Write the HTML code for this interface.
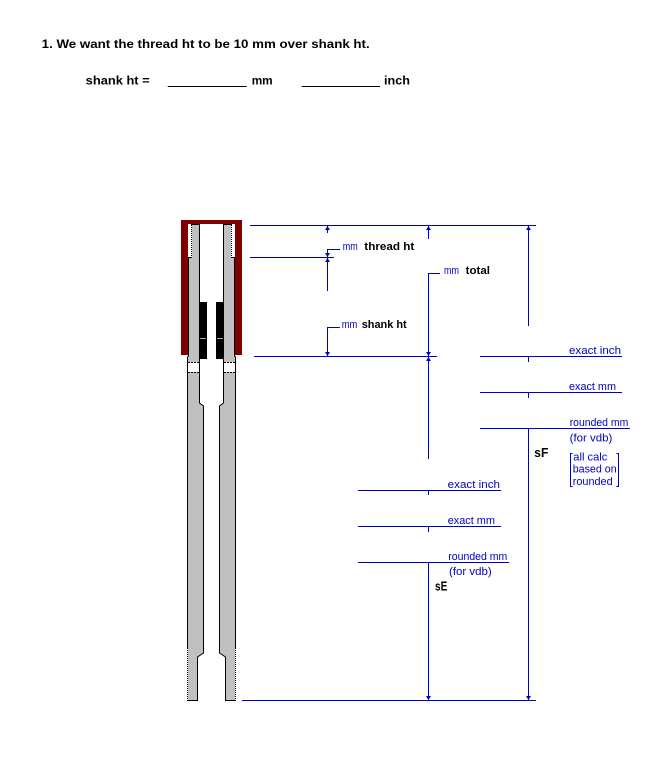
<!DOCTYPE html>
<html><head><meta charset="utf-8"><style>
html,body{margin:0;padding:0;background:#fff;}
svg{display:block;}
text{font-family:"Liberation Sans",Arial,sans-serif;}
.b{fill:#0000c0;font-size:11px;}
.k{fill:#000;font-size:11px;font-weight:bold;}
.h{fill:#000;font-size:12px;font-weight:bold;}
</style></head><body>
<svg width="650" height="780" viewBox="0 0 650 780" xmlns="http://www.w3.org/2000/svg">
<rect width="650" height="780" fill="#fff"/>
<!-- header -->
<text class="h" x="41.7" y="48" textLength="328" lengthAdjust="spacingAndGlyphs">1. We want the thread ht to be 10 mm over shank ht.</text>
<text class="h" x="85.7" y="84.3" textLength="64" lengthAdjust="spacingAndGlyphs">shank ht =</text>
<line x1="167.7" y1="86.5" x2="246.7" y2="86.5" stroke="#000" stroke-width="1"/>
<text class="h" x="251.7" y="84.3" textLength="21" lengthAdjust="spacingAndGlyphs">mm</text>
<line x1="301.7" y1="86.5" x2="380" y2="86.5" stroke="#000" stroke-width="1"/>
<text class="h" x="384" y="84.3" textLength="26" lengthAdjust="spacingAndGlyphs">inch</text>

<!-- red cap -->
<rect x="181" y="220" width="61" height="135" fill="#800000"/>
<rect x="188" y="224" width="47" height="131" fill="#fff"/>

<!-- members -->
<g stroke="#000" stroke-width="1" fill="#c0c0c0">
<polygon points="191.5,224.5 199.5,224.5 199.5,403 203.5,406 203.5,653 197.5,657 197.5,700.5 187.5,700.5 187.5,357 188.5,356 188.5,257.5 191.5,257.5"/>
<polygon points="231.5,224.5 223.5,224.5 223.5,403 219.5,406 219.5,653 225.5,657 225.5,700.5 235.5,700.5 235.5,357 234.5,356 234.5,257.5 231.5,257.5"/>
</g>
<!-- threads (dotted edges) -->
<g stroke-width="1">
<line x1="191.5" y1="225" x2="191.5" y2="257" stroke="#fff"/>
<line x1="191.5" y1="225" x2="191.5" y2="257" stroke="#000" stroke-dasharray="1,1"/>
<line x1="231.5" y1="225" x2="231.5" y2="257" stroke="#fff"/>
<line x1="231.5" y1="225" x2="231.5" y2="257" stroke="#000" stroke-dasharray="1,1"/>
<line x1="187.5" y1="648" x2="187.5" y2="700" stroke="#fff"/>
<line x1="187.5" y1="648" x2="187.5" y2="700" stroke="#000" stroke-dasharray="1,1"/>
<line x1="235.5" y1="648" x2="235.5" y2="700" stroke="#fff"/>
<line x1="235.5" y1="648" x2="235.5" y2="700" stroke="#000" stroke-dasharray="1,1"/>
</g>
<!-- white band -->
<rect x="188" y="362" width="11" height="10" fill="#fff"/>
<rect x="224" y="362" width="11" height="10" fill="#fff"/>
<g stroke="#000" stroke-width="1" stroke-dasharray="2,1">
<line x1="188" y1="362.5" x2="199" y2="362.5"/>
<line x1="188" y1="372.5" x2="199" y2="372.5"/>
<line x1="224" y1="362.5" x2="235" y2="362.5"/>
<line x1="224" y1="372.5" x2="235" y2="372.5"/>
</g>
<!-- black blocks -->
<rect x="199" y="302" width="8" height="57" fill="#000"/>
<rect x="216" y="302" width="8" height="57" fill="#000"/>
<line x1="200" y1="338.5" x2="206" y2="338.5" stroke="#a8a8a8" stroke-width="1"/>
<line x1="217" y1="338.5" x2="223" y2="338.5" stroke="#a8a8a8" stroke-width="1"/>

<!-- dimension lines -->
<g stroke="#0000c0" stroke-width="1" fill="none">
<line x1="250" y1="225.5" x2="536" y2="225.5"/>
<line x1="250" y1="257.5" x2="334" y2="257.5"/>
<line x1="254" y1="356.5" x2="437" y2="356.5"/>
<line x1="480" y1="356.5" x2="622" y2="356.5"/>
<line x1="480" y1="392.5" x2="622" y2="392.5"/>
<line x1="480" y1="428.5" x2="630" y2="428.5"/>
<line x1="358" y1="490.5" x2="501" y2="490.5"/>
<line x1="358" y1="526.5" x2="501" y2="526.5"/>
<line x1="358" y1="562.5" x2="509" y2="562.5"/>
<line x1="242" y1="700.5" x2="536" y2="700.5"/>
<!-- stubs -->
<line x1="327" y1="249.5" x2="340" y2="249.5"/>
<line x1="327" y1="327.5" x2="340" y2="327.5"/>
<line x1="428" y1="273.5" x2="440" y2="273.5"/>
<!-- x=327 -->
<line x1="327.5" y1="226" x2="327.5" y2="233"/>
<line x1="327.5" y1="249" x2="327.5" y2="257"/>
<line x1="327.5" y1="258" x2="327.5" y2="291"/>
<line x1="327.5" y1="327" x2="327.5" y2="356"/>
<!-- x=428 -->
<line x1="428.5" y1="226" x2="428.5" y2="239"/>
<line x1="428.5" y1="273" x2="428.5" y2="356"/>
<line x1="428.5" y1="357" x2="428.5" y2="459"/>
<line x1="428.5" y1="490" x2="428.5" y2="495"/>
<line x1="428.5" y1="526" x2="428.5" y2="532"/>
<line x1="428.5" y1="562" x2="428.5" y2="700"/>
<!-- x=528 -->
<line x1="528.5" y1="226" x2="528.5" y2="326"/>
<line x1="528.5" y1="356" x2="528.5" y2="362"/>
<line x1="528.5" y1="392" x2="528.5" y2="398"/>
<line x1="528.5" y1="428" x2="528.5" y2="700"/>
<!-- brackets -->
<polyline points="572.5,453.5 570.5,453.5 570.5,486.5 572.5,486.5"/>
<polyline points="616.5,453.5 618.5,453.5 618.5,486.5 616.5,486.5"/>
</g>
<!-- arrowheads -->
<g fill="#0000c0">
<polygon points="327.5,226 325,230 330,230"/>
<polygon points="327.5,257 325,253 330,253"/>
<polygon points="327.5,258 325,262 330,262"/>
<polygon points="327.5,356 325,352 330,352"/>
<polygon points="428.5,226 426,230 431,230"/>
<polygon points="428.5,356 426,352 431,352"/>
<polygon points="428.5,357 426,361 431,361"/>
<polygon points="428.5,700 426,696 431,696"/>
<polygon points="528.5,226 526,230 531,230"/>
<polygon points="528.5,700 526,696 531,696"/>
</g>

<!-- labels -->
<text class="b" x="342.7" y="250" textLength="15" lengthAdjust="spacingAndGlyphs">mm</text>
<text class="k" x="364.3" y="250" textLength="50" lengthAdjust="spacingAndGlyphs">thread ht</text>
<text class="b" x="341.7" y="328" textLength="15.5" lengthAdjust="spacingAndGlyphs">mm</text>
<text class="k" x="361.7" y="328" textLength="45" lengthAdjust="spacingAndGlyphs">shank ht</text>
<text class="b" x="444" y="274" textLength="15" lengthAdjust="spacingAndGlyphs">mm</text>
<text class="k" x="465.7" y="274" textLength="24.3" lengthAdjust="spacingAndGlyphs">total</text>

<text class="b" x="569" y="354" textLength="52" lengthAdjust="spacingAndGlyphs">exact inch</text>
<text class="b" x="569" y="390" textLength="47" lengthAdjust="spacingAndGlyphs">exact mm</text>
<text class="b" x="569.7" y="426" textLength="58.6" lengthAdjust="spacingAndGlyphs">rounded mm</text>
<text class="b" x="569.7" y="441.5" textLength="42.6" lengthAdjust="spacingAndGlyphs">(for vdb)</text>
<text class="k" x="534.3" y="457" style="font-size:13px" textLength="14" lengthAdjust="spacingAndGlyphs">sF</text>
<text class="b" x="573.3" y="460.5" textLength="34" lengthAdjust="spacingAndGlyphs">all calc</text>
<text class="b" x="572.7" y="472.7" textLength="44" lengthAdjust="spacingAndGlyphs">based on</text>
<text class="b" x="572.7" y="485" textLength="40" lengthAdjust="spacingAndGlyphs">rounded</text>

<text class="b" x="447.7" y="488" textLength="52.3" lengthAdjust="spacingAndGlyphs">exact inch</text>
<text class="b" x="447.7" y="524" textLength="47.3" lengthAdjust="spacingAndGlyphs">exact mm</text>
<text class="b" x="448.3" y="560" textLength="59" lengthAdjust="spacingAndGlyphs">rounded mm</text>
<text class="b" x="449" y="575" textLength="42.7" lengthAdjust="spacingAndGlyphs">(for vdb)</text>
<text class="k" x="435" y="590.5" style="font-size:13px" textLength="12.3" lengthAdjust="spacingAndGlyphs">sE</text>
</svg>
</body></html>
